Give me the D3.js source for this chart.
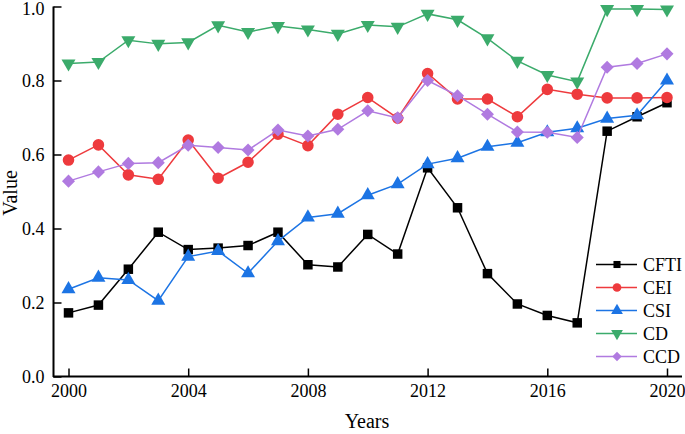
<!DOCTYPE html>
<html><head><meta charset="utf-8">
<script src="https://cdn.jsdelivr.net/npm/d3@7"></script>
<style>body{margin:0;background:#fff}svg{display:block}</style>
</head><body>
<script>
const years = d3.range(2000, 2021);
const CFTI = [0.172,0.193,0.290,0.390,0.343,0.347,0.354,0.390,0.302,0.296,0.384,0.331,0.564,0.456,0.278,0.196,0.165,0.145,0.663,0.702,0.740];
const CEI  = [0.585,0.626,0.545,0.533,0.639,0.536,0.579,0.655,0.624,0.709,0.754,0.698,0.819,0.750,0.750,0.702,0.776,0.763,0.753,0.753,0.754];
const CSI  = [0.236,0.267,0.261,0.205,0.324,0.339,0.279,0.366,0.430,0.440,0.490,0.520,0.574,0.590,0.621,0.632,0.660,0.671,0.697,0.706,0.800];
const CD   = [0.846,0.850,0.909,0.899,0.903,0.949,0.931,0.947,0.938,0.926,0.950,0.945,0.980,0.964,0.914,0.853,0.815,0.797,0.993,0.993,0.992];
const CCD  = [0.528,0.553,0.576,0.578,0.625,0.619,0.612,0.666,0.650,0.668,0.718,0.699,0.800,0.759,0.709,0.661,0.660,0.646,0.836,0.846,0.872];
const seriesNames = ["CFTI","CEI","CSI","CD","CCD"];
const xTicks = [2000,2004,2008,2012,2016,2020];
const yTicks = [0.0,0.2,0.4,0.6,0.8,1.0];

const series = [
  {name:"CFTI", values:CFTI, color:"#000000", sym:d3.symbolSquare, size:90, rot:0, ls:50},
  {name:"CEI",  values:CEI,  color:"#ee3a3d", sym:d3.symbolCircle, size:105, rot:0, ls:60},
  {name:"CSI",  values:CSI,  color:"#1c74e4", sym:d3.symbolTriangle, size:85, rot:0, ls:60},
  {name:"CD",   values:CD,   color:"#3bab6b", sym:d3.symbolTriangle, size:85, rot:180, ls:60},
  {name:"CCD",  values:CCD,  color:"#b07ae0", sym:d3.symbolSquare, size:85, rot:45, ls:45}
];

const W=685,H=434;
const svg = d3.select("body").append("svg").attr("width",W).attr("height",H);
const x = d3.scaleLinear().domain([2000,2020]).range([68.5,667]);
const y = d3.scaleLinear().domain([0,1]).range([376.5,6.5]);
const font = "'Liberation Serif','Times New Roman',serif";

svg.append("line").attr("x1",53.5).attr("x2",53.5).attr("y1",6.5).attr("y2",377).attr("stroke","#000").attr("stroke-width",2);
svg.append("line").attr("x1",53).attr("x2",682).attr("y1",376.5).attr("y2",376.5).attr("stroke","#000").attr("stroke-width",2);

const yAxis = d3.axisLeft(y).tickValues(yTicks).tickFormat(d3.format(".1f")).tickSizeInner(-8).tickSizeOuter(0).tickPadding(9);
const gy = svg.append("g").attr("transform","translate(53.5,0)").call(yAxis);
gy.select(".domain").remove();
gy.selectAll(".tick line").attr("stroke","#000").attr("stroke-width",1.5);
gy.selectAll("text").attr("font-family",font).attr("font-size",18).attr("fill","#000");
gy.selectAll(".tick").filter(d=>d===1).select("text").attr("dy","0.42em");

const xAxis = d3.axisBottom(x).tickValues(xTicks).tickFormat(d3.format("d")).tickSizeInner(-8).tickSizeOuter(0).tickPadding(8);
const gx = svg.append("g").attr("transform","translate(0,376.5)").call(xAxis);
gx.select(".domain").remove();
gx.selectAll(".tick line").attr("stroke","#000").attr("stroke-width",1.5);
gx.selectAll("text").attr("font-family",font).attr("font-size",18).attr("fill","#000");

svg.append("text").attr("x",367).attr("y",428).attr("text-anchor","middle")
  .attr("font-family",font).attr("font-size",20).text("Years");
svg.append("text").attr("transform","translate(17,193) rotate(-90)").attr("text-anchor","middle")
  .attr("font-family",font).attr("font-size",20).text("Value");

const line = d3.line().x((d,i)=>x(years[i])).y(d=>y(d));
series.forEach(s=>{
  const g = svg.append("g");
  g.append("path").attr("d",line(s.values)).attr("fill","none").attr("stroke",s.color).attr("stroke-width",1.5);
  g.selectAll("path.m").data(s.values).join("path").attr("class","m")
    .attr("d",d3.symbol().type(s.sym).size(s.size))
    .attr("transform",(d,i)=>`translate(${x(years[i])},${y(d)}) rotate(${s.rot})`)
    .attr("fill",s.color);
});

const lg = svg.append("g");
series.forEach((s,i)=>{
  const yy = 264.5 + i*23;
  lg.append("line").attr("x1",596).attr("x2",637).attr("y1",yy).attr("y2",yy).attr("stroke",s.color).attr("stroke-width",1.5);
  lg.append("path").attr("d",d3.symbol().type(s.sym).size(s.ls)).attr("transform",`translate(617,${yy}) rotate(${s.rot})`).attr("fill",s.color);
  lg.append("text").attr("x",643).attr("y",yy).attr("dy","0.35em").attr("font-family",font).attr("font-size",18).text(s.name);
});
</script>
</body></html>
